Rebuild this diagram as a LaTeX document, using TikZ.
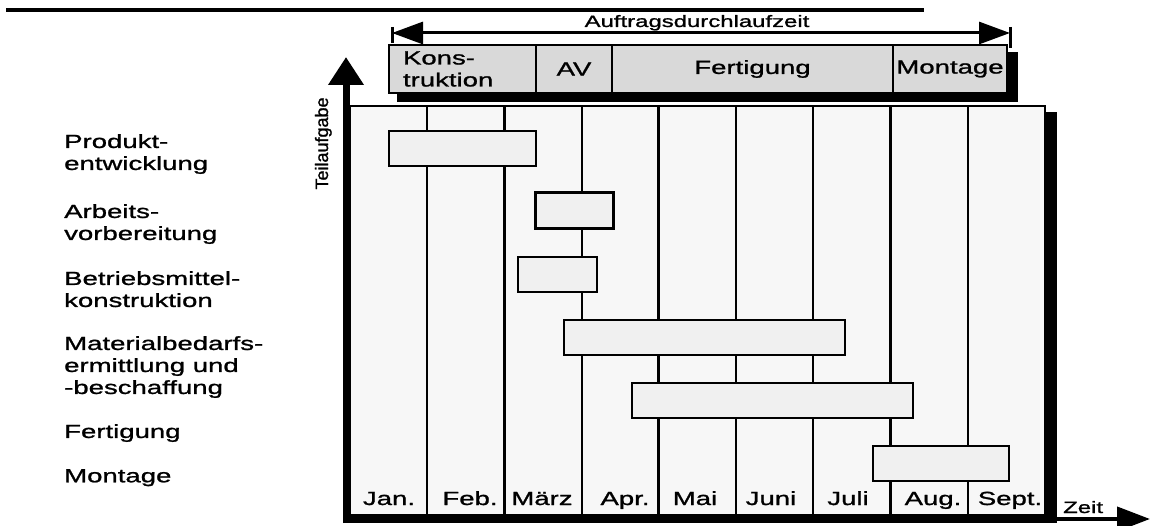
\documentclass[tikz,border=0pt]{standalone}
\usepackage{fontspec}
\setmainfont{Liberation Sans}[FakeStretch=1.45,FakeBold=1.2]
\newfontfamily\plainfont{Liberation Sans}[FakeBold=1.2]
\usetikzlibrary{arrows.meta}

\begin{document}
\begin{tikzpicture}[x=1pt,y=-1pt,
  hdr/.style={draw=black,line width=1.5pt,fill=black!15,minimum height=48pt,font=\fontsize{19}{22}\selectfont},
  bar/.style={draw=black,line width=1.6pt,fill=black!6},
  mon/.style={font=\fontsize{19}{22}\selectfont,anchor=base},
  task/.style={font=\fontsize{19}{22}\selectfont,align=left,anchor=north west},
  small/.style={font=\fontsize{16.5}{20}\selectfont},
  every node/.style={inner sep=0pt}]
\useasboundingbox (0,0) rectangle (1151,526);
% rule and total lead time
\draw[line width=3.5pt] (6,10) -- (924,10);
\node[small,anchor=base] (adlz) at (697,27) {Auftragsdurchlaufzeit};
\coordinate (dl) at (392,33);
\coordinate (dr) at (1010,33);
\draw[line width=3pt,{Triangle[length=31pt,width=22pt]}-{Triangle[length=31pt,width=22pt]}] (dl) -- (dr);
\draw[line width=3pt] (392,27) -- (392,43);
\draw[line width=3pt] (1010,27) -- (1010,48);
% phases
\fill (397,52) rectangle (1018,102);
\node[hdr,minimum width=147pt,text width=119pt,align=left] (kon) at (462.5,69) {Kons-\\truktion};
\node[hdr,minimum width=76pt] (av) at (574,69) {AV};
\node[hdr,minimum width=281pt] (fert) at (752.5,69) {Fertigung};
\node[hdr,minimum width=114pt] (mont) at (950,69) {Montage};
% chart area
\fill (346,112) rectangle (1057,523);
\draw[line width=1.5pt,fill=black!3] (350,106) rectangle (1045,515);
\foreach \x/\w in {427.2/1.6,504.4/3,581.7/1.6,658.9/3,736.1/1.6,813.3/2,890.6/3,967.8/1.6}
  \draw[line width=\w pt] (\x,106) -- (\x,515);
\foreach \m/\x [count=\i] in {Jan./389,Feb./470,März/542,Apr./625,Mai/695,Juni/771,Juli/848,Aug./933,Sept./1010}
  \node[mon] (m\i) at (\x,505) {\m};
% bars
\draw[bar] (389,131) rectangle (536,166);
\draw[bar,line width=3pt] (535,193) rectangle (613,229);
\draw[bar] (518,257) rectangle (597,292);
\draw[bar] (564,320) rectangle (845,355);
\draw[bar] (632,383) rectangle (913,418);
\draw[bar] (873,446) rectangle (1009,481);
% axes
\coordinate (o) at (346,523);
\coordinate (ytip) at (346,57);
\coordinate (xo) at (346,519);
\coordinate (xtip) at (1150,519);
\draw[line width=7pt,-{Triangle[length=28pt,width=34pt]}] (o) -- (ytip);
\draw[line width=4pt,-{Triangle[length=33pt,width=24pt]}] (xo) -- (xtip);
\node[font=\plainfont\fontsize{18}{20}\selectfont,rotate=90,anchor=base] (teil) at (328,143.5) {Teilaufgabe};
\node[small,anchor=base west] (zeit) at (1063,513) {Zeit};
% tasks
\node[task] (t1) at (64,134) {Produkt-\\entwicklung};
\node[task] (t2) at (64,204) {Arbeits-\\vorbereitung};
\node[task] (t3) at (64,271) {Betriebsmittel-\\konstruktion};
\node[task] (t4) at (64,336) {Materialbedarfs-\\ermittlung und\\-beschaffung};
\node[task] (t5) at (64,424) {Fertigung};
\node[task] (t6) at (64,469) {Montage};
\end{tikzpicture}
\end{document}
